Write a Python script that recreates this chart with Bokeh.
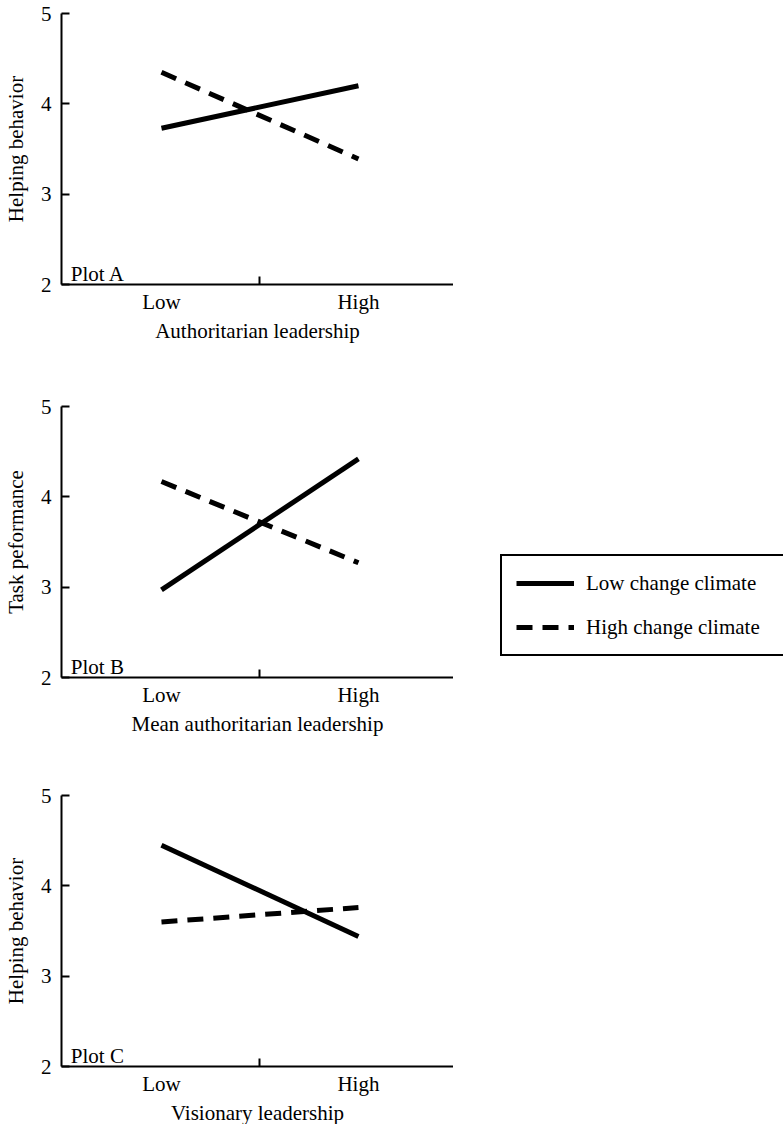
from bokeh.plotting import figure
from bokeh.layouts import column, row
from bokeh.models import Range1d, FixedTicker, Legend, LegendItem, Label
from bokeh.embed import file_html
from bokeh.resources import INLINE

# ---- data ----
categories = ["Low", "High"]
levels = [1, 3]

a_low_change = [3.73, 4.20]
a_high_change = [4.35, 3.39]

b_low_change = [2.97, 4.42]
b_high_change = [4.17, 3.27]

c_low_change = [4.45, 3.44]
c_high_change = [3.60, 3.76]

y_ticks = [2, 3, 4, 5]
series_names = ["Low change climate", "High change climate"]

FONT = "Liberation Serif"
FS = "21px"
DASH = "16 10"
LW = 5


def make_plot(ylabel, xlabel, tag, low, high, top, bottom):
    p = figure(frame_width=392, frame_height=271, output_backend="svg",
               toolbar_location=None, x_range=Range1d(-0.015, 3.965),
               y_range=Range1d(2, 5), min_border_left=60, min_border_right=0,
               min_border_top=top, min_border_bottom=bottom)
    p.outline_line_color = None
    p.xgrid.visible = False
    p.ygrid.visible = False
    p.background_fill_color = "white"
    p.border_fill_color = "white"

    xa = p.xaxis[0]
    xa.ticker = FixedTicker(ticks=levels, minor_ticks=[2])
    xa.major_label_overrides = {lv: c for lv, c in zip(levels, categories)}
    xa.major_tick_in = 0
    xa.major_tick_out = 0
    xa.minor_tick_in = 8
    xa.minor_tick_out = 0
    xa.minor_tick_line_width = 2
    xa.minor_tick_line_color = "black"
    xa.major_label_standoff = 5
    xa.axis_label = xlabel
    xa.axis_label_standoff = 2

    ya = p.yaxis[0]
    ya.ticker = FixedTicker(ticks=y_ticks, minor_ticks=[])
    ya.major_tick_in = 8
    ya.major_tick_out = 0
    ya.major_tick_line_width = 2
    ya.major_tick_line_color = "black"
    ya.major_label_standoff = 10
    ya.axis_label = ylabel
    ya.axis_label_standoff = 10

    for ax in (xa, ya):
        ax.axis_line_width = 2
        ax.axis_line_color = "black"
        ax.major_label_text_font = FONT
        ax.major_label_text_font_size = FS
        ax.major_label_text_color = "black"
        ax.axis_label_text_font = FONT
        ax.axis_label_text_font_size = FS
        ax.axis_label_text_font_style = "normal"
        ax.axis_label_text_color = "black"

    p.line(levels, low, line_color="black", line_width=LW)
    p.line(levels, high, line_color="black", line_width=LW, line_dash=DASH)

    p.add_layout(Label(x=0.08, y=2.12, text=tag, text_font=FONT,
                       text_font_size=FS, text_color="black",
                       text_baseline="alphabetic"))
    return p


pa = make_plot("Helping behavior", "Authoritarian leadership", "Plot A",
               a_low_change, a_high_change, top=13, bottom=110)
pb = make_plot("Task peformance", "Mean authoritarian leadership", "Plot B",
               b_low_change, b_high_change, top=12, bottom=106)
pc = make_plot("Helping behavior", "Visionary leadership", "Plot C",
               c_low_change, c_high_change, top=12, bottom=10)

# legend panel beside plot B (its frame is aligned with plot B's frame);
# the key renderers repeat plot B's series but lie outside this panel's range
lf = figure(width=331, height=389, output_backend="svg", toolbar_location=None,
            x_axis_type=None, y_axis_type=None, min_border=0,
            x_range=Range1d(10, 11), y_range=Range1d(10, 11))
lf.outline_line_color = None
lf.xgrid.visible = False
lf.ygrid.visible = False
d1 = lf.line(levels, b_low_change, line_color="black", line_width=LW)
d2 = lf.line(levels, b_high_change, line_color="black", line_width=LW,
             line_dash=DASH)
lg = Legend(items=[LegendItem(label=series_names[0], renderers=[d1]),
                   LegendItem(label=series_names[1], renderers=[d2])],
            location=(47, 21), orientation="vertical")
lg.label_text_font = FONT
lg.label_text_font_size = FS
lg.label_text_color = "black"
lg.glyph_width = 58
lg.glyph_height = 26
lg.label_height = 26
lg.label_width = 185
lg.label_standoff = 12
lg.padding = 14
lg.spacing = 18
lg.margin = 0
lg.border_line_color = "black"
lg.border_line_alpha = 1.0
lg.border_line_width = 2
lg.background_fill_color = "white"
lg.background_fill_alpha = 1.0
lf.add_layout(lg)

layout = column(pa, row(pb, lf, spacing=0), pc, spacing=0)
open("out.html", "w").write(file_html(layout, INLINE))
